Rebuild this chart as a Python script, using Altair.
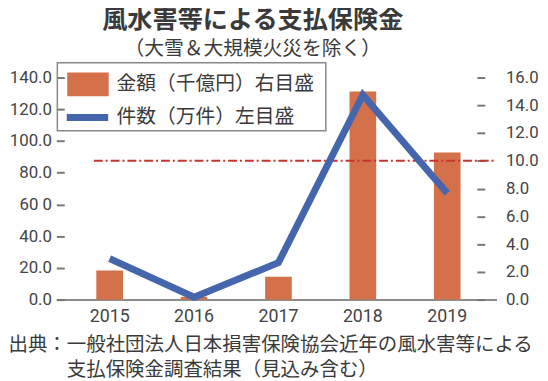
import altair as alt
import pandas as pd

years = ["2015", "2016", "2017", "2018", "2019"]
amount = [2.1, 0.2, 1.65, 15.0, 10.6]      # 金額（千億円） right axis
count = [25.8, 1.5, 23.3, 129.0, 67.0]     # 件数（万件） left axis
ref_value = 10.0
left_ticks = [0, 20, 40, 60, 80, 100, 120, 140]
right_ticks = [0, 2, 4, 6, 8, 10, 12, 14, 16]
bar_name = "金額（千億円）右目盛"
line_name = "件数（万件）左目盛"
title_text = "風水害等による支払保険金"
subtitle_text = "（大雪＆大規模火災を除く）"
source_lines = ["出典：一般社団法人日本損害保険協会近年の風水害等による",
                "\u200b\u3000\u3000\u3000支払保険金調査結果（見込み含む）"]

ORANGE = "#d5714a"
BLUE = "#4566ad"
RED = "#c8352e"
TXT = "#3a3a3a"
CJK = "Noto Sans CJK JP"
NUM = "Roboto"

df = pd.DataFrame({"year": years, "amount": amount, "count": count})
df_bar = df.assign(series=bar_name)
df_line = df.assign(series=line_name)

x_enc = alt.X(
    "year:N", sort=years,
    scale=alt.Scale(paddingInner=0.684, paddingOuter=0.45, align=0.526),
    axis=alt.Axis(
        title=source_lines, titleFont=CJK, titleFontSize=19.7, titleFontWeight="normal",
        titleColor=TXT, titleX=-49, titleY=52, titleAlign="left",
        titleBaseline="alphabetic", titleLineHeight=25, titleAnchor="start",
        labelFont=NUM, labelFontSize=18, labelColor="#444", labelPadding=8,
        labelAngle=0, ticks=False, domainColor="#666", domainWidth=1.5,
    ),
)

right_axis = alt.Axis(orient="right", values=right_ticks, format=".1f",
                      domain=False, grid=False, tickSize=8, tickWidth=2,
                      tickColor="#777", offset=-20, labelPadding=21,
                      labelOverlap=False, tickCount=9,
                      labelFont=NUM, labelFontSize=17, labelColor="#444",
                      title=None)
right_scale = alt.Scale(domain=[0, 16], nice=False)

bars = alt.Chart(df_bar).mark_bar().encode(
    x=x_enc,
    y=alt.Y("amount:Q", scale=right_scale, axis=right_axis),
    fill=alt.Fill("series:N",
                  scale=alt.Scale(domain=[bar_name], range=[ORANGE]),
                  legend=alt.Legend(
                      title=None, orient="none", legendX=17, legendY=-8,
                      padding=0, labelFont=CJK, labelFontSize=20, labelColor=TXT,
                      labelOffset=14, labelLimit=400, symbolSize=900,
                      symbolType="M-1.4,-0.8H1.4V0.8H-1.4Z",
                      symbolStrokeWidth=0, symbolOpacity=1)),
)

rule = alt.Chart(pd.DataFrame({"amount": [ref_value]})).mark_rule(
    color=RED, strokeWidth=2, strokeDash=[9, 3, 2, 3]
).encode(y=alt.Y("amount:Q", scale=right_scale, axis=right_axis),
         x=alt.value(38), x2=alt.value(445))

box = alt.Chart(pd.DataFrame({"v": [0]})).mark_rect(
    fill="white", fillOpacity=0, stroke="#888", strokeWidth=1.5
).encode(x=alt.value(1), x2=alt.value(273), y=alt.value(-15), y2=alt.value(54))

line = alt.Chart(df_line).mark_line(strokeWidth=7).encode(
    x=x_enc,
    y=alt.Y("count:Q", scale=alt.Scale(domain=[0, 140], nice=False),
            axis=alt.Axis(orient="left", values=left_ticks,
                          labelExpr="datum.value == 60 ? '60 0' : format(datum.value, '.1f')",
                          domain=False, grid=False, tickSize=8, tickWidth=2,
                          tickColor="#777", offset=-8, labelPadding=5,
                          labelOverlap=False,
                          labelFont=NUM, labelFontSize=17, labelColor="#444",
                          title=None)),
    stroke=alt.Stroke("series:N",
                      scale=alt.Scale(domain=[line_name], range=[BLUE]),
                      legend=alt.Legend(
                          title=None, orient="none", legendX=13, legendY=22,
                          padding=0, labelFont=CJK, labelFontSize=20, labelColor=TXT,
                          labelOffset=11, labelLimit=400, symbolSize=900,
                          symbolType="M-1.4,0H1.4",
                          symbolStrokeWidth=7, symbolOpacity=1)),
)

inner = alt.layer(bars, rule)
chart = alt.layer(inner, box, line).resolve_scale(y="independent").properties(
    width=446, height=225,
    autosize=alt.AutoSizeParams(type="none"),
    padding={"left": 49, "top": 68, "right": 44, "bottom": 80},
    title=alt.TitleParams(
        text=title_text, subtitle=subtitle_text, font=CJK, fontSize=25.5,
        fontWeight="bold", color=TXT, subtitleFont=CJK, subtitleFontSize=20,
        subtitleColor=TXT, subtitlePadding=6, anchor="middle", dx=-24, offset=3,
    ),
).configure_view(stroke=None)

chart.save("out.html", embed_options={"renderer": "svg", "actions": False})
